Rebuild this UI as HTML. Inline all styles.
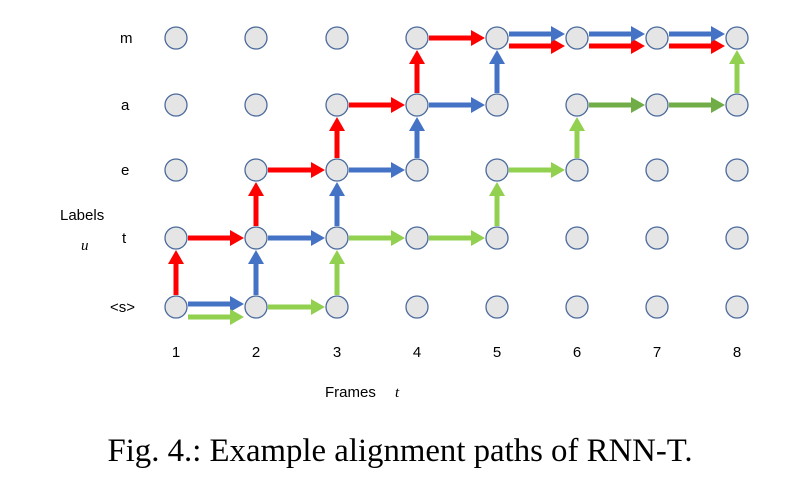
<!DOCTYPE html>
<html><head><style>body{margin:0;background:#fff}svg{display:block}</style></head><body>
<svg width="805" height="488" viewBox="0 0 805 488" xmlns="http://www.w3.org/2000/svg">
<defs>
<marker id="r" markerUnits="userSpaceOnUse" markerWidth="14" markerHeight="16" refX="0" refY="8" orient="auto"><path d="M0,0L14,8L0,16z" fill="#ff0000"/></marker>
<marker id="b" markerUnits="userSpaceOnUse" markerWidth="14" markerHeight="16" refX="0" refY="8" orient="auto"><path d="M0,0L14,8L0,16z" fill="#4472c4"/></marker>
<marker id="g" markerUnits="userSpaceOnUse" markerWidth="14" markerHeight="16" refX="0" refY="8" orient="auto"><path d="M0,0L14,8L0,16z" fill="#92d050"/></marker>
<marker id="d" markerUnits="userSpaceOnUse" markerWidth="14" markerHeight="16" refX="0" refY="8" orient="auto"><path d="M0,0L14,8L0,16z" fill="#70ad47"/></marker>
</defs>
<g fill="#e5e5e5" stroke="#4a6a9c" stroke-width="1.3" id="c"></g>
<g font-family="Liberation Sans, sans-serif" font-size="15" fill="#000">
<text x="120" y="43">m</text><text x="121" y="110">a</text><text x="121" y="175">e</text><text x="122" y="243">t</text><text x="110" y="312">&lt;s&gt;</text>
<text x="60" y="220">Labels</text>
<g text-anchor="middle"><text x="176" y="357">1</text><text x="256" y="357">2</text><text x="337" y="357">3</text><text x="417" y="357">4</text><text x="497" y="357">5</text><text x="577" y="357">6</text><text x="657" y="357">7</text><text x="737" y="357">8</text></g>
<text x="325" y="397">Frames</text>
</g>
<text x="81" y="250" font-family="Liberation Serif, serif" font-style="italic" font-size="15">u</text>
<text x="395" y="397" font-family="Liberation Serif, serif" font-style="italic" font-size="15">t</text>
<text x="400" y="461" text-anchor="middle" font-family="Liberation Serif, serif" font-size="32.8">Fig. 4.: Example alignment paths of RNN-T.</text>
<g id="a" stroke-width="5"></g>
<script>
var X=[176,256,337,417,497,577,657,737],Y=[307,238,170,105,38],ns="http://www.w3.org/2000/svg";
var cg=document.getElementById('c');
for(var i=0;i<8;i++)for(var j=0;j<5;j++){var c=document.createElementNS(ns,'circle');c.setAttribute('cx',X[i]);c.setAttribute('cy',Y[j]);c.setAttribute('r',11);cg.appendChild(c);}
var ag=document.getElementById('a');
var col={r:'#ff0000',b:'#4472c4',g:'#92d050',d:'#70ad47'};
function L(x1,y1,x2,y2,k){var l=document.createElementNS(ns,'line');l.setAttribute('x1',x1);l.setAttribute('y1',y1);l.setAttribute('x2',x2);l.setAttribute('y2',y2);l.setAttribute('stroke',col[k]);l.setAttribute('marker-end','url(#'+k+')');ag.appendChild(l);}
function H(i,j,k,o){o=o||0;L(X[i]+12,Y[j]+o,X[i+1]-12-14,Y[j]+o,k);}
function V(i,j,k){L(X[i],Y[j]-12,X[i],Y[j+1]+12+14,k);}
V(0,0,'r');H(0,1,'r');V(1,1,'r');H(1,2,'r');V(2,2,'r');H(2,3,'r');V(3,3,'r');H(3,4,'r');H(4,4,'r',8);H(5,4,'r',8);H(6,4,'r',8);
H(0,0,'b',-3);V(1,0,'b');H(1,1,'b');V(2,1,'b');H(2,2,'b');V(3,2,'b');H(3,3,'b');V(4,3,'b');H(4,4,'b',-4);H(5,4,'b',-4);H(6,4,'b',-4);
H(0,0,'g',10);H(1,0,'g');V(2,0,'g');H(2,1,'g');H(3,1,'g');V(4,1,'g');H(4,2,'g');V(5,2,'g');H(5,3,'d');H(6,3,'d');V(7,3,'g');
</script>
</svg>
</body></html>
